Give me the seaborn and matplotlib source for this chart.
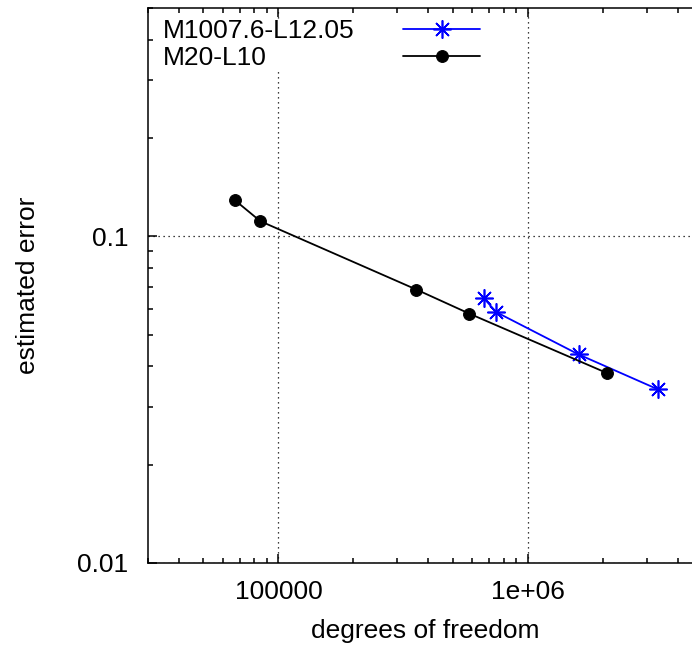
import matplotlib
matplotlib.use("Agg")
import matplotlib.pyplot as plt
import matplotlib.ticker as mticker
import seaborn as sns

# series (log-log)
labels = ["M1007.6-L12.05", "M20-L10"]
dof_m1007 = [665000, 748000, 1600000, 3330000]
err_m1007 = [0.0648, 0.0586, 0.0435, 0.0340]
dof_m20 = [67100, 84600, 358000, 583000, 2070000]
err_m20 = [0.1288, 0.1113, 0.0687, 0.0580, 0.0382]

xticks = [1e5, 1e6]
xticklabels = ["100000", "1e+06"]
yticks = [0.01, 0.1]
yticklabels = ["0.01", "0.1"]

sns.set_style("ticks")
plt.rcParams["font.family"] = ["Liberation Sans", "DejaVu Sans"]
plt.rcParams["font.size"] = 19
for k in ["text.color", "axes.labelcolor", "xtick.color", "ytick.color", "axes.edgecolor"]:
    plt.rcParams[k] = "black"

fig = plt.figure(figsize=(6.92, 6.46), dpi=100)
ax = fig.add_axes([148 / 692, 83 / 646, 554 / 692, 555 / 646])

# blue asterisks
sns.lineplot(x=dof_m1007, y=err_m1007, ax=ax, color="#0000ff", lw=1.3,
             marker=(8, 2, 0), markersize=13, markeredgewidth=1.2,
             markeredgecolor="#0000ff", label=labels[0], sort=False)
# black dots
sns.lineplot(x=dof_m20, y=err_m20, ax=ax, color="black", lw=1.3,
             marker="o", markersize=8.5, markeredgecolor="black",
             label=labels[1], sort=False)

ax.set_xscale("log")
ax.set_yscale("log")
ax.set_xlim(3e4, 5e6)
ax.set_ylim(0.01, 0.5)

ax.set_xticks(xticks, labels=xticklabels)
ax.set_yticks(yticks, labels=yticklabels)
ax.xaxis.set_minor_locator(mticker.LogLocator(base=10, subs=range(2, 10)))
ax.yaxis.set_minor_locator(mticker.LogLocator(base=10, subs=range(2, 10)))
ax.xaxis.set_minor_formatter(mticker.NullFormatter())
ax.yaxis.set_minor_formatter(mticker.NullFormatter())

ax.tick_params(which="both", direction="in", top=True, right=False,
               width=1.1, color="black", labelsize=19)
ax.tick_params(which="major", length=6.5)
ax.tick_params(which="minor", length=3.5)
ax.tick_params(axis="y", pad=14)
ax.tick_params(axis="x", pad=12)

ax.grid(True, which="major", color="black", lw=0.9, linestyle=(0, (1, 3)))

for s in ["left", "bottom", "top"]:
    ax.spines[s].set_linewidth(1.1)
ax.spines["right"].set_visible(False)

ax.set_xlabel("degrees of freedom", fontsize=19, labelpad=11)
ax.set_ylabel("estimated error", fontsize=19, labelpad=27)

# gnuplot style key: text left-aligned, sample on the right
leg = ax.legend(loc="upper left", bbox_to_anchor=(0.027, 0.98),
                markerfirst=False, frameon=True, fancybox=False,
                facecolor="white", edgecolor="none", framealpha=1,
                borderpad=0, borderaxespad=0, handlelength=2.9,
                handletextpad=1.85, labelspacing=0.12, fontsize=19)

renderer = fig.canvas.get_renderer()
widths = [t.get_window_extent(renderer).width for t in leg.get_texts()]
wmax = max(widths)
items = leg._legend_handle_box.get_children()[0].get_children()
for item, w in zip(items, widths):
    item.sep += (wmax - w) * 72 / fig.dpi

fig.savefig("out.png", dpi=100)
